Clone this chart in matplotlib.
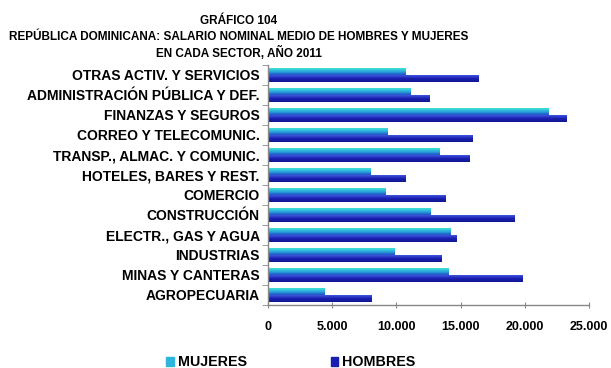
import numpy as np
import matplotlib
matplotlib.use("Agg")
import matplotlib.pyplot as plt
import matplotlib.patches as mpatches
from matplotlib.colors import LinearSegmentedColormap
from matplotlib.ticker import FuncFormatter

plt.rcParams['font.family'] = ['Liberation Sans', 'DejaVu Sans']
plt.rcParams['font.weight'] = 'bold'

# sectors, bottom to top
sectores = [
    "AGROPECUARIA",
    "MINAS Y CANTERAS",
    "INDUSTRIAS",
    "ELECTR., GAS Y AGUA",
    "CONSTRUCCIÓN",
    "COMERCIO",
    "HOTELES, BARES Y REST.",
    "TRANSP., ALMAC. Y COMUNIC.",
    "CORREO Y TELECOMUNIC.",
    "FINANZAS Y SEGUROS",
    "ADMINISTRACIÓN PÚBLICA Y DEF.",
    "OTRAS ACTIV. Y SERVICIOS",
]
mujeres = [4390, 14050, 9840, 14230, 12620, 9160, 8000, 13320, 9270, 21830, 11110, 10720]
hombres = [8070, 19830, 13550, 14690, 19190, 13840, 10720, 15710, 15890, 23240, 12540, 16380]

x_ticks = [0, 5000, 10000, 15000, 20000, 25000]

cmap_muj = LinearSegmentedColormap.from_list("muj", ["#3fe6d6", "#2aa8dc", "#1f4fc4"])
cmap_hom = LinearSegmentedColormap.from_list("hom", ["#3f57e0", "#1a1eb0", "#101890"])

fig = plt.figure(figsize=(6.11, 3.68), dpi=100)
ax = fig.add_axes([0.4386, 0.1712, 0.5254, 0.6522])

y = np.arange(len(sectores))
h = 0.34
grad = np.linspace(0, 1, 64).reshape(-1, 1)


def gradient_bars(bars, cmap):
    for b in bars:
        x0, y0 = b.get_x(), b.get_y()
        w, hh = b.get_width(), b.get_height()
        # lighter colour on top of each bar
        im = ax.imshow(grad, cmap=cmap, aspect='auto', origin='upper',
                       extent=[x0, x0 + w, y0, y0 + hh], zorder=2)
        im.set_clip_path(b)


b_muj = ax.barh(y + h / 2, mujeres, height=h, color='none', edgecolor='none')
b_hom = ax.barh(y - h / 2, hombres, height=h, color='none', edgecolor='none')
gradient_bars(b_muj, cmap_muj)
gradient_bars(b_hom, cmap_hom)

ax.set_xlim(0, 25000)
ax.set_ylim(-0.5, len(sectores) - 0.5)
ax.set_xticks(x_ticks)
ax.xaxis.set_major_formatter(FuncFormatter(lambda v, p: f"{int(v):,}".replace(",", ".")))
ax.set_yticks(y)
ax.set_yticklabels(sectores)
ax.set_yticks(np.arange(-0.5, len(sectores), 1), minor=True)

ax.tick_params(axis='y', which='major', length=0, pad=6, labelsize=10)
ax.tick_params(axis='y', which='minor', length=4, direction='out', color='#888888')
ax.tick_params(axis='x', which='major', length=5, direction='inout', color='#888888',
               pad=9, labelsize=9)

for s in ['top', 'right']:
    ax.spines[s].set_visible(False)
for s in ['left', 'bottom']:
    ax.spines[s].set_color('#888888')
    ax.spines[s].set_linewidth(1)

fig.text(0.391, 0.944, "GRÁFICO 104", ha='center', va='center', fontsize=8.5)
fig.text(0.391, 0.900, "REPÚBLICA DOMINICANA: SALARIO NOMINAL MEDIO DE HOMBRES Y MUJERES",
         ha='center', va='center', fontsize=8.5)
fig.text(0.391, 0.856, "EN CADA SECTOR, AÑO 2011", ha='center', va='center', fontsize=8.5)

handles = [mpatches.Patch(color='#2fb4dc', label='MUJERES'),
           mpatches.Patch(color='#1a1eb0', label='HOMBRES')]
fig.legend(handles=handles, loc='center', bbox_to_anchor=(0.476, 0.015), ncol=2,
           frameon=False, fontsize=10.3, handlelength=0.55, handleheight=0.55,
           handletextpad=0.25, columnspacing=5.85)

fig.savefig("out.png", dpi=100)
